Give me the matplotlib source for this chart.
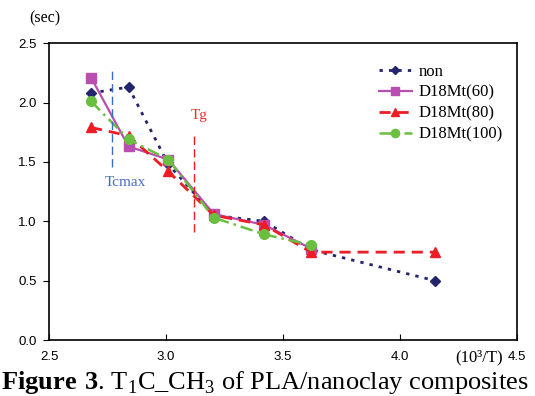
import matplotlib
matplotlib.use("Agg")
import matplotlib.pyplot as plt

plt.rcParams['mathtext.fontset'] = 'custom'
plt.rcParams['mathtext.rm'] = 'Liberation Serif'
plt.rcParams['mathtext.bf'] = 'Liberation Serif:bold'

x_non = [2.68, 2.84, 3.01, 3.205, 3.42, 3.62, 4.15]
y_non = [2.08, 2.13, 1.48, 1.05, 1.00, 0.76, 0.50]
x_60 = [2.68, 2.84, 3.01, 3.205, 3.42, 3.62]
y_60 = [2.21, 1.63, 1.52, 1.06, 0.97, 0.77]
x_80 = [2.68, 2.84, 3.01, 3.205, 3.42, 3.62, 4.15]
y_80 = [1.79, 1.72, 1.42, 1.05, 0.97, 0.74, 0.74]
x_100 = [2.68, 2.84, 3.01, 3.205, 3.42, 3.62]
y_100 = [2.01, 1.69, 1.52, 1.03, 0.89, 0.80]

xticks = [2.5, 3.0, 3.5, 4.0, 4.5]
yticks = [0.0, 0.5, 1.0, 1.5, 2.0, 2.5]

fig = plt.figure(figsize=(5.35, 3.96), dpi=100)
ax = fig.add_axes([0.0916, 0.1414, 0.8744, 0.7496])

ax.plot(x_non, y_non, color='#24236e', linestyle=(0, (1.2, 2.2)), lw=2,
        marker='D', ms=5, label='non')
ax.plot(x_60, y_60, color='#b84fb0', linestyle='-', lw=1.6,
        marker='s', ms=6.5, label='D18Mt(60)')
ax.plot(x_80, y_80, color='#ee1c25', linestyle=(0, (4, 2.5)), lw=2,
        marker='^', ms=7, label='D18Mt(80)')
ax.plot(x_100, y_100, color='#6abf40', linestyle=(0, (5, 2, 1, 2)), lw=1.8,
        marker='o', ms=7, label='D18Mt(100)')

# reference lines
ax.plot([2.77, 2.77], [1.46, 2.28], color='#3a6cc8', lw=1, linestyle=(0, (6, 3)))
ax.plot([3.12, 3.12], [0.91, 1.72], color='#ee1c25', lw=1, linestyle=(0, (6, 3)))
ax.text(2.825, 1.33, 'Tcmax', color='#4a6cc0', fontsize=11,
        family='Liberation Serif', ha='center', va='center')
ax.text(3.14, 1.89, 'Tg', color='#ee3030', fontsize=11,
        family='Liberation Serif', ha='center', va='center')

ax.set_xlim(2.5, 4.5)
ax.set_ylim(0.0, 2.5)
ax.set_xticks(xticks)
ax.set_yticks(yticks)
ax.set_xticklabels(['%.1f' % v for v in xticks], fontsize=9.5, family='Liberation Sans')
ax.set_yticklabels(['%.1f' % v for v in yticks], fontsize=9.5, family='Liberation Sans')
ax.tick_params(axis='x', direction='in', length=4, pad=8)
ax.tick_params(axis='y', direction='out', length=4, pad=5)
for s in ax.spines.values():
    s.set_linewidth(1.2)
leg = ax.legend(loc='upper right', frameon=False, prop={'family': 'Liberation Serif', 'size': 12},
                bbox_to_anchor=(0.995, 0.97), handlelength=2.0, handletextpad=0.4,
                labelspacing=0.3, borderaxespad=0.3, markerscale=0.85)

fig.text(0.084, 0.953, '(sec)', family='Liberation Serif', fontsize=11.5, ha='center', va='center')
fig.text(0.895, 0.097, '(10³/T)', family='Liberation Serif', fontsize=12, ha='center', va='center')
fig.text(0.495, 0.035, r'$\mathbf{Figure\ 3}$. T$_1$C_CH$_3$ of PLA/nanoclay composites',
         family='Liberation Serif', fontsize=19, ha='center', va='center')

fig.savefig('out.png', dpi=100)
